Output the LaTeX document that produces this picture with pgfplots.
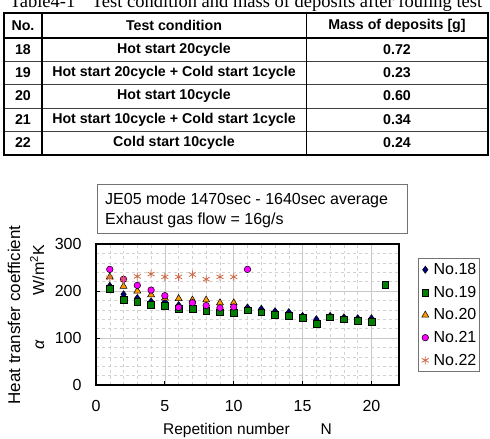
\documentclass[border=0pt]{standalone}
\usepackage{fontspec}
\setmainfont{Liberation Sans}
\newfontfamily\seriffont{Liberation Serif}
\usepackage{pgfplots}
\pgfplotsset{compat=1.18}

\definecolor{cNavy}{HTML}{000080}
\definecolor{cGreen}{HTML}{008000}
\definecolor{cOrange}{HTML}{FF9900}
\definecolor{cMagenta}{HTML}{FF00FF}
\definecolor{cRust}{HTML}{CC6A45}
\definecolor{gridmajor}{HTML}{C8C8C8}
\definecolor{gridminor}{HTML}{D2D2D2}

\newcommand\fsz[1]{\fontsize{#1bp}{1.2\dimexpr #1bp\relax}\selectfont}

% legend entry: one mark with a little room on either side
\pgfplotsset{dotlegend/.style={legend image code/.code={%
  \path (0bp,0bp) (11bp,0bp);
  \draw[mark repeat=2, mark phase=2, ##1] plot coordinates {(0bp,0bp) (5bp,0bp) (10bp,0bp)};}}}

\begin{document}
\begin{tikzpicture}
\clip (0,0) rectangle (490bp,439bp);

% ---------------- table ----------------
\node[anchor=base, inner sep=0pt, font=\seriffont\fsz{18.5}] at (246bp,431bp)
  {Table4-1\hspace{0.9em}Test condition and mass of deposits after fouling test};

\foreach \yy in {378,355,331,308}
  \draw[line width=0.8bp, black!75] (4bp,\yy bp) -- (488bp,\yy bp);
\draw[line width=1.6bp] (4bp,401bp) -- (488bp,401bp);
\draw[line width=0.9bp] (306bp,426bp) -- (306bp,284bp);
\draw[line width=2bp] (42bp,426bp) -- (42bp,284bp);
\draw[line width=2bp] (4bp,426bp) rectangle (488bp,284bp);

\begin{scope}[every node/.style={inner sep=0pt, font=\bfseries\fsz{14.2}}]
  \node at (23bp,413.5bp) {No.};
  \node at (174bp,413.5bp) {Test condition};
  \node at (397bp,413.5bp) {Mass of deposits [g]};
  \node at (23bp,389.5bp) {18};
  \node at (174bp,389.5bp) {Hot start 20cycle};
  \node at (397bp,389.5bp) {0.72};
  \node at (23bp,366.5bp) {19};
  \node at (174bp,366.5bp) {Hot start 20cycle + Cold start 1cycle};
  \node at (397bp,366.5bp) {0.23};
  \node at (23bp,343bp) {20};
  \node at (174bp,343bp) {Hot start 10cycle};
  \node at (397bp,343bp) {0.60};
  \node at (23bp,319.5bp) {21};
  \node at (174bp,319.5bp) {Hot start 10cycle + Cold start 1cycle};
  \node at (397bp,319.5bp) {0.34};
  \node at (23bp,296bp) {22};
  \node at (174bp,296bp) {Cold start 10cycle};
  \node at (397bp,296bp) {0.24};
\end{scope}

% ---------------- chart ----------------
\draw[line width=0.8bp, black!55, fill=white] (97bp,255bp) rectangle (407bp,206bp);
\node[anchor=base west, inner sep=0pt, font=\fsz{16}] at (105bp,234bp) {JE05 mode 1470sec - 1640sec average};
\node[anchor=base west, inner sep=0pt, font=\fsz{16}] at (105bp,214bp) {Exhaust gas flow = 16g/s};

\node[rotate=90, anchor=base, inner sep=0pt, font=\fsz{17}] at (20bp,124bp) {Heat transfer coefficient};
\node[rotate=90, anchor=base, inner sep=0pt, font=\fsz{16}] at (44bp,169bp) {W/m\textsuperscript{2}K};
\node[rotate=90, anchor=base, inner sep=0pt, font=\itshape\fsz{16}] at (44bp,94bp) {α};

\begin{axis}[
  at={(96bp,54bp)}, anchor=south west,
  scale only axis, width=303bp, height=141bp,
  xmin=0, xmax=22, ymin=0, ymax=300,
  xtick={0,5,10,15,20}, ytick={0,100,200,300},
  minor x tick num=4, minor y tick num=4,
  grid=both,
  major grid style={gridmajor, line width=0.6bp},
  minor grid style={gridminor, dashed, line width=0.5bp},
  axis line style={line width=1.5bp},
  tick style={black, line width=0.8bp},
  minor tick length=0pt,
  major tick length=4bp,
  xtick pos=bottom, ytick pos=left,
  tick align=inside,
  /pgf/number format/assume math mode=true,
  ticklabel style={font=\fsz{16}},
  xticklabel style={yshift=-12bp},
  yticklabel style={xshift=-11bp},
  xlabel={Repetition number\hspace{2em}N},
  xlabel style={font=\fsz{15.5}, at={(axis description cs:0.5,0)}, anchor=base, yshift=-49bp},
  legend style={
    at={(rel axis cs:1,1)}, anchor=north west, xshift=19bp, yshift=-14bp,
    font=\fsz{16}, draw=black!55, line width=0.8bp,
    row sep=6bp, inner xsep=1.5bp, inner ysep=3bp,
    legend cell align=left,
  },
]
\addplot[only marks, dotlegend, mark=diamond*, mark size=3.6bp, mark options={fill=cNavy, draw=black, line width=0.5bp}]
  coordinates {
  (1,211) (2,193) (3,185) (4,178) (5,177) (6,170) (7,170) (8,166) (9,163) (10,160)
  (11,165) (12,162) (13,157) (14,155) (15,147) (16,140) (17,147) (18,144) (19,142) (20,142)
  };
\addlegendentry{No.18}
\addplot[only marks, dotlegend, mark=square*, mark size=3.4bp, mark options={fill=cGreen, draw=black, line width=0.5bp}]
  coordinates {
  (1,204) (2,182) (3,177) (4,171) (5,169) (6,162) (7,162) (8,158) (9,155) (10,153)
  (11,159) (12,155) (13,150) (14,147) (15,143) (16,131) (17,144) (18,140) (19,137) (20,135)
  (21,214)
  };
\addlegendentry{No.19}
\addplot[only marks, dotlegend, mark=triangle*, mark size=4bp, mark options={fill=cOrange, draw=black, line width=0.5bp}]
  coordinates {
  (1,230) (2,210) (3,200) (4,192) (5,185) (6,184) (7,181) (8,181) (9,175) (10,175)
  };
\addlegendentry{No.20}
\addplot[only marks, dotlegend, mark=*, mark size=3.3bp, mark options={fill=cMagenta, draw=black, line width=0.5bp}]
  coordinates {
  (1,246) (2,225) (3,212) (4,202) (5,190) (6,165) (7,175) (8,169) (9,164) (10,166)
  (11,246)
  };
\addlegendentry{No.21}
\addplot[only marks, dotlegend, mark=asterisk, mark size=4bp, mark options={draw=cRust, line width=0.8bp}]
  coordinates {
  (1,228) (2,225) (3,231) (4,236) (5,230) (6,230) (7,235) (8,225) (9,230) (10,230)
  };
\addlegendentry{No.22}
\end{axis}
\end{tikzpicture}
\end{document}
